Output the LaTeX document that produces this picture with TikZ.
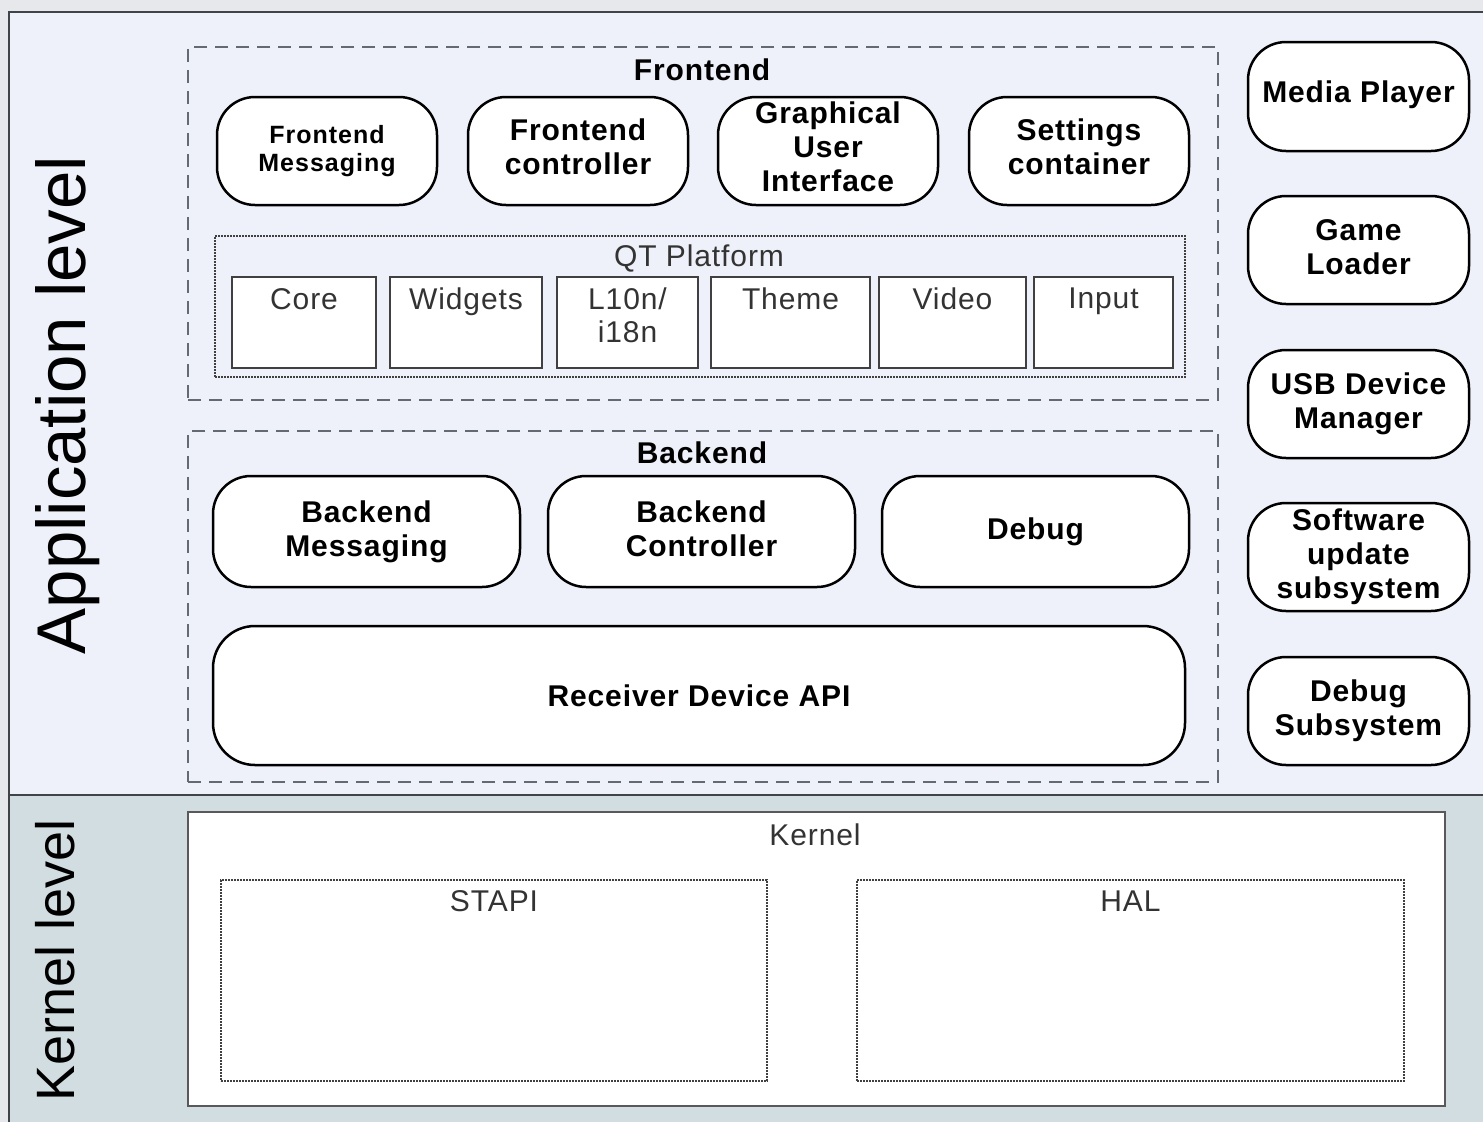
\documentclass[tikz,border=0pt]{standalone}
\usepackage{fontspec}
\setmainfont{Liberation Sans}
\newfontfamily\widefont{Liberation Sans}[LetterSpace=3]
\newfontfamily\widerfont{Liberation Sans}[LetterSpace=4]
\begin{document}
\begin{tikzpicture}[x=1pt,y=-1pt]
\definecolor{topbg}{HTML}{E6E8EC}
\definecolor{appbg}{HTML}{EEF1F9}
\definecolor{kernbg}{HTML}{D2DDE1}
\definecolor{dashgray}{HTML}{646A72}
\definecolor{framegray}{HTML}{404448}
\tikzset{
  rbox/.style={draw=black, line width=2.5pt, rounded corners=38pt, fill=white,
    align=center, inner sep=0pt, font=\widefont\fontsize{30}{34}\selectfont\bfseries},
  smallrbox/.style={rbox, font=\widerfont\fontsize{25}{28}\selectfont\bfseries},
  groupbox/.style={draw=dashgray, line width=2.8pt, dash pattern=on 13pt off 8pt, inner sep=0pt},
  dotbox/.style={draw=black!75, line width=1.3pt, dash pattern=on 2pt off 1pt, inner sep=0pt},
  qtbox/.style={draw=black!75, line width=2pt, fill=white, inner sep=0pt},
  qtlabel/.style={font=\widefont\fontsize{30}{33}\selectfont, text=black!80, align=center, inner sep=0pt},
  grouplabel/.style={font=\widefont\fontsize{30}{34}\selectfont\bfseries, inner sep=0pt},
  plainlabel/.style={font=\widefont\fontsize{30}{34}\selectfont, text=black!80, inner sep=0pt},
}
\useasboundingbox (0,0) rectangle (1483,1122);
% backgrounds
\fill[topbg] (0,0) rectangle (1483,1122);
\fill[appbg] (9,12) rectangle (1483,795);
\fill[kernbg] (9,795) rectangle (1483,1122);
\draw[framegray, line width=2pt] (1483,12) -- (9,12) -- (9,1122);
\draw[framegray, line width=2.5pt] (9,795) -- (1483,795);
% level labels
\node[rotate=90, font=\fontsize{69}{72}\selectfont, inner sep=0pt] (applevel) at (68,405) {Application level};
\node[rotate=90, font=\fontsize{54}{58}\selectfont, inner sep=0pt] (kernlevel) at (55,960) {Kernel level};
% Frontend group
\node[groupbox, minimum width=1030pt, minimum height=353pt] (frontend) at (703,223.5) {};
\node[grouplabel] (frontendlbl) at (702,70) {Frontend};
\node[smallrbox, minimum width=220pt, minimum height=108pt] (femsg) at (327,151) {Frontend\\Messaging};
\node[rbox, minimum width=220pt, minimum height=108pt] (fectrl) at (578,151) {Frontend\\controller\rule[-8pt]{0pt}{1pt}};
\node[rbox, minimum width=220pt, minimum height=108pt] (gui) at (828,151) {Graphical\\User\\Interface\rule[-8pt]{0pt}{1pt}};
\node[rbox, minimum width=220pt, minimum height=108pt] (settings) at (1079,151) {Settings\\container\rule[-8pt]{0pt}{1pt}};
% QT platform
\node[dotbox, minimum width=970pt, minimum height=141pt] (qt) at (700,306.5) {};
\node[plainlabel] (qtlbl) at (699,258) {QT Platform};
\node[qtbox, minimum width=144pt, minimum height=91pt] (core) at (304,322.5) {};
\node[qtlabel, anchor=north] (corelbl) at ([yshift=-12pt]core.north) {Core};
\node[qtbox, minimum width=152pt, minimum height=91pt] (widgets) at (466,322.5) {};
\node[qtlabel, anchor=north] (widgetslbl) at ([yshift=-12pt]widgets.north) {Widgets};
\node[qtbox, minimum width=141pt, minimum height=91pt] (l10n) at (627.5,322.5) {};
\node[qtlabel, anchor=north] (l10nlbl) at ([yshift=-12pt]l10n.north) {L10n/\\i18n};
\node[qtbox, minimum width=159pt, minimum height=91pt] (theme) at (790.5,322.5) {};
\node[qtlabel, anchor=north] (themelbl) at ([yshift=-12pt]theme.north) {Theme};
\node[qtbox, minimum width=147pt, minimum height=91pt] (video) at (952.5,322.5) {};
\node[qtlabel, anchor=north] (videolbl) at ([yshift=-12pt]video.north) {Video};
\node[qtbox, minimum width=139pt, minimum height=91pt] (input) at (1103.5,322.5) {};
\node[qtlabel, anchor=north] (inputlbl) at ([yshift=-12pt]input.north) {Input};
% Backend group
\node[groupbox, minimum width=1030pt, minimum height=351pt] (backend) at (703,606.5) {};
\node[grouplabel] (backendlbl) at (702,453) {Backend};
\node[rbox, minimum width=307pt, minimum height=111pt] (bemsg) at (366.5,531.5) {Backend\\Messaging};
\node[rbox, minimum width=307pt, minimum height=111pt] (bectrl) at (701.5,531.5) {Backend\\Controller\rule[-6pt]{0pt}{1pt}};
\node[rbox, minimum width=307pt, minimum height=111pt] (debug) at (1035.5,531.5) {Debug};
\node[rbox, minimum width=972pt, minimum height=139pt, rounded corners=42pt] (rdapi) at (699,695.5) {Receiver Device API};
% Right column
\node[rbox, minimum width=221pt, minimum height=109pt] (media) at (1358.5,96.5) {Media Player\rule[-10pt]{0pt}{1pt}};
\node[rbox, minimum width=221pt, minimum height=108pt] (game) at (1358.5,250) {Game\\Loader\rule[-5pt]{0pt}{1pt}};
\node[rbox, minimum width=221pt, minimum height=108pt] (usb) at (1358.5,404) {USB Device\\Manager};
\node[rbox, minimum width=221pt, minimum height=108pt] (swupd) at (1358.5,557) {Software\\update\\subsystem};
\node[rbox, minimum width=221pt, minimum height=108pt] (dbgsub) at (1358.5,711) {Debug\\Subsystem};
% Kernel
\node[draw=black!65, line width=2.5pt, fill=white, minimum width=1257pt, minimum height=294pt, inner sep=0pt] (kernel) at (816.5,959) {};
\node[plainlabel] (kernellbl) at (815,835) {Kernel};
\node[dotbox, minimum width=546pt, minimum height=201pt] (stapi) at (494,980.5) {};
\node[plainlabel, anchor=north] (stapilbl) at ([yshift=-11pt]stapi.north) {STAPI};
\node[dotbox, minimum width=547pt, minimum height=201pt] (hal) at (1130.5,980.5) {};
\node[plainlabel, anchor=north] (hallbl) at ([yshift=-11pt]hal.north) {HAL};
\end{tikzpicture}
\end{document}
